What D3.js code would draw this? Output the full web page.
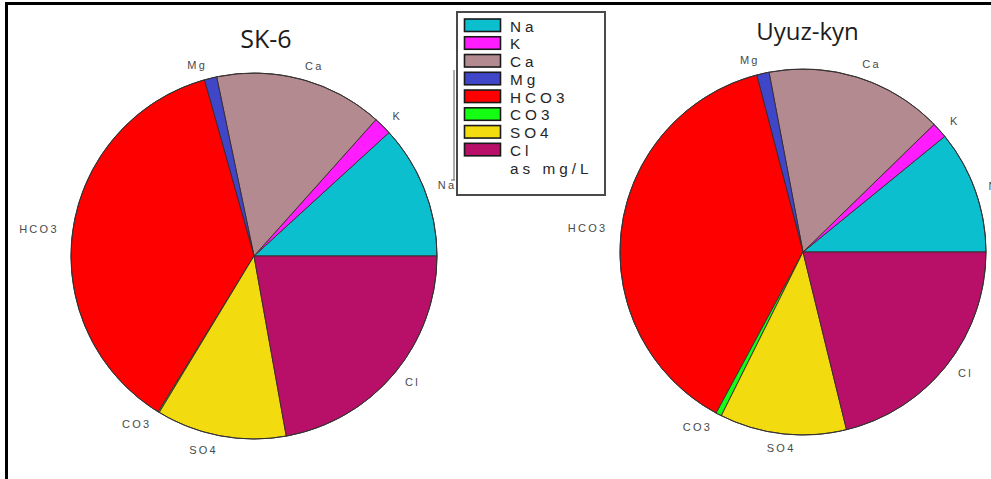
<!DOCTYPE html>
<html>
<head>
<meta charset="utf-8">
<script src="https://cdn.jsdelivr.net/npm/d3@7"></script>
<style>
  html, body { margin: 0; padding: 0; background: #fff; }
  svg { display: block; }
</style>
</head>
<body>
<svg id="chart" width="991" height="479"></svg>
<script>
// ---- data ----
const ions = ["Na", "K", "Ca", "Mg", "HCO3", "CO3", "SO4", "Cl"];
const ionColors = ["#0cbfcf", "#ff1cff", "#b38a8f", "#3f46c8", "#ff0000", "#14ff14", "#f2dc0f", "#b80f69"];
const sk6Values = [11.8, 1.6, 14.9, 1.1, 36.9, 0.1, 11.5, 22.2];
const uyuzValues = [10.9, 1.4, 15.7, 1.1, 38.1, 0.5, 11.2, 21.2];
const sampleNames = ["SK-6", "Uyuz-kyn"];
const unitsLabel = "as mg/L";

// ---- layout ----
const W = 991, H = 479;
const svg = d3.select("#chart");
const R = 183;
const charts = [
  { name: sampleNames[0], values: sk6Values, cx: 254, cy: 256, tx: 266, ty: 48, fs: 25 },
  { name: sampleNames[1], values: uyuzValues, cx: 803, cy: 252, tx: 807.5, ty: 40, fs: 24 }
];

// outer frame (top and left visible)
svg.append("rect")
  .attr("x", 6.5).attr("y", 3.5).attr("width", W + 20).attr("height", H + 20)
  .attr("fill", "none").attr("stroke", "#000").attr("stroke-width", 3);

const pie = d3.pie().sort(null).value(d => d)
  .startAngle(Math.PI / 2).endAngle(Math.PI / 2 - 2 * Math.PI);
const arc = d3.arc().innerRadius(0).outerRadius(R);
const color = d3.scaleOrdinal().domain(ions).range(ionColors);

charts.forEach(c => {
  const g = svg.append("g").attr("transform", `translate(${c.cx},${c.cy})`);
  const arcs = pie(c.values);
  g.selectAll("path.slice").data(arcs).enter().append("path")
    .attr("class", "slice")
    .attr("d", arc)
    .attr("fill", (d, i) => color(ions[i]))
    .attr("stroke", "#3a2a2a")
    .attr("stroke-width", 0.9)
    .attr("stroke-linejoin", "round");
  g.append("circle").attr("r", R).attr("fill", "none")
    .attr("stroke", "#333").attr("stroke-width", 1);

  const RL = R + 14;
  g.selectAll("text.lbl").data(arcs).enter().append("text")
    .attr("class", "lbl")
    .each(function (d, i) {
      const a = (d.startAngle + d.endAngle) / 2;
      const x = Math.sin(a) * RL, y = -Math.cos(a) * RL;
      const cs = Math.sin(a);
      const anchor = cs > 0.12 ? "start" : (cs < -0.12 ? "end" : "middle");
      d3.select(this)
        .attr("x", x).attr("y", y).attr("dy", "0.35em")
        .attr("text-anchor", anchor)
        .text(ions[i]);
    })
    .attr("font-family", "Liberation Sans, Arial, sans-serif")
    .attr("font-size", 11)
    .attr("letter-spacing", 2.3)
    .attr("fill", "#4a4a4a");

  svg.append("text")
    .attr("x", c.tx).attr("y", c.ty)
    .attr("text-anchor", "middle")
    .attr("font-family", "Open Sans, Liberation Sans, sans-serif")
    .attr("font-size", c.fs)
    .attr("fill", "#1c1c1c")
    .text(c.name);
});

// ---- legend ----
const lg = svg.append("g");
lg.append("line").attr("x1", 454).attr("x2", 454).attr("y1", 70).attr("y2", 180)
  .attr("stroke", "#777").attr("stroke-width", 1.2);
lg.append("line").attr("x1", 451).attr("x2", 455).attr("y1", 180).attr("y2", 180)
  .attr("stroke", "#777").attr("stroke-width", 1.2);
lg.append("rect")
  .attr("x", 457).attr("y", 12).attr("width", 148).attr("height", 183)
  .attr("fill", "#fff").attr("stroke", "#4a4a4a").attr("stroke-width", 2);

const rowY = d3.scaleLinear().domain([0, 1]).range([19, 19 + 17.76]);
const legendFont = { family: "Liberation Sans, Arial, sans-serif", size: 15.3, ls: 4 };
ions.forEach((ion, i) => {
  lg.append("rect")
    .attr("x", 464.5).attr("y", rowY(i))
    .attr("width", 36).attr("height", 12.5)
    .attr("fill", color(ion)).attr("stroke", "#1a1a1a").attr("stroke-width", 1.6);
  lg.append("text")
    .attr("x", 510).attr("y", rowY(i) + 12.5)
    .attr("font-family", legendFont.family)
    .attr("font-size", legendFont.size).attr("letter-spacing", legendFont.ls)
    .attr("fill", "#262626")
    .text(ion);
});
lg.append("text")
  .attr("x", 510).attr("y", rowY(ions.length) + 12.5)
  .attr("font-family", legendFont.family)
  .attr("font-size", legendFont.size).attr("letter-spacing", legendFont.ls)
  .attr("fill", "#262626")
  .text(unitsLabel);
</script>
</body>
</html>
